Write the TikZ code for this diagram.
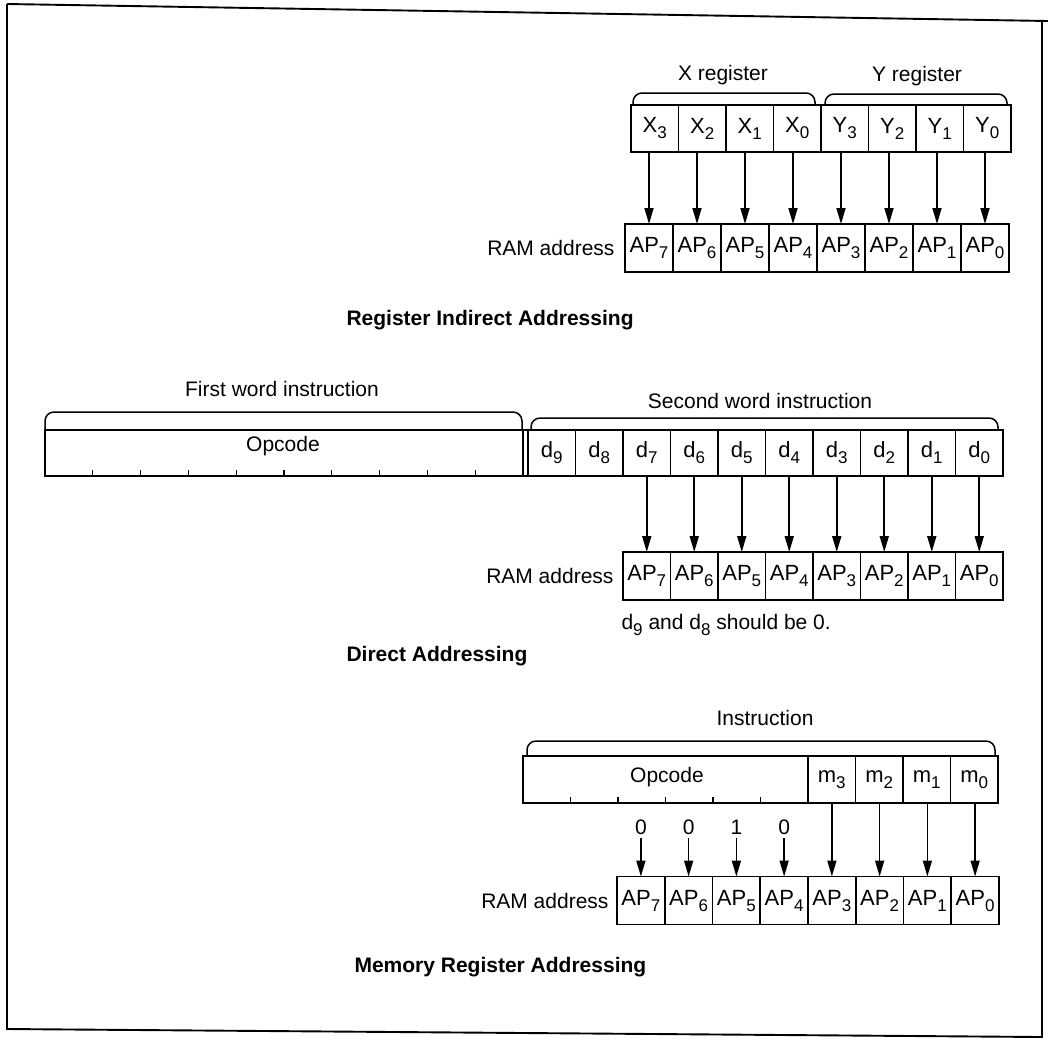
\documentclass[tikz,border=0pt]{standalone}
\usepackage{fontspec}
\setmainfont{Liberation Sans}
\usetikzlibrary{arrows.meta}
\newcommand\sbs[1]{\raisebox{-6pt}{\fontsize{17}{17}\selectfont #1}}
\begin{document}
\begin{tikzpicture}[x=1pt,y=-1pt,
  every node/.style={font=\fontsize{21}{25}\selectfont},
  cell/.style={draw,line width=1.8pt,inner sep=0pt,outer sep=0pt,minimum height=47pt,minimum width=47.5pt,font=\fontsize{22}{25}\selectfont},
  arr/.style={line width=1.7pt,-{Triangle[length=16pt,width=9pt]}},
  brace/.style={line width=1.5pt,rounded corners=9pt},
  title/.style={anchor=west,font=\fontsize{21}{25}\selectfont\bfseries},
  tick/.style={line width=1.3pt},
  frame/.style={line width=1.9pt}]
\useasboundingbox (0,0) rectangle (1048,1045);
% frame
\draw[frame] (7,4) -- (1048,21);
\draw[frame] (7,4) -- (7,1029) -- (1042,1037) -- (1042,21);

% ---------- Register Indirect Addressing ----------
\foreach \i/\t in {1/X\sbs{3},2/X\sbs{2},3/X\sbs{1},4/X\sbs{0},5/Y\sbs{3},6/Y\sbs{2},7/Y\sbs{1},8/Y\sbs{0}}
  \node[cell] (t\i) at ({631+47.5*(\i-0.5)},128.5) {\t};
\foreach \i in {1,...,8}{
  \pgfmathtruncatemacro\k{8-\i}
  \node[cell,minimum width=48pt,minimum height=48pt] (a\i) at ({625+48*(\i-0.5)},248) {AP\sbs{\k}};
  \draw[arr] (a\i.north |- t\i.south) -- (a\i.north);
}
\draw[brace] (633,104) -- (633,93) -- (815,93) -- (815,104);
\draw[brace] (825,104) -- (825,94) -- (1007,94) -- (1007,104);
\node (xl) at (723,75) {X register};
\node (yl) at (917,76) {Y register};
\node[anchor=east] (r1) at ([xshift=-7pt]a1.west) {RAM address};
\node[title] (h1) at (343,320) {Register Indirect Addressing};

% ---------- Direct Addressing ----------
\node[cell,minimum width=478pt,minimum height=46pt] (op1) at (284,453) {};
\node (opl1) at (283,446) {Opcode};
\draw[line width=1.8pt] (op1.north east) rectangle (528,476);
\foreach \k in {1,...,9}
  \draw[tick] ({45+47.8*\k},476) -- ++(0,-6);
\foreach \i in {1,...,10}{
  \pgfmathtruncatemacro\k{10-\i}
  \node[cell,minimum height=46pt] (dd\i) at ({528+47.5*(\i-0.5)},453) {d\sbs{\k}};
}
\foreach \i in {1,...,8}{
  \pgfmathtruncatemacro\k{8-\i}
  \pgfmathtruncatemacro\j{\i+2}
  \node[cell,minimum height=48pt] (b\i) at ({623+47.5*(\i-0.5)},576) {AP\sbs{\k}};
  \draw[arr] (b\i.north |- dd\j.south) -- (b\i.north);
}
\draw[brace] (45,429) -- (45,412) -- (522,412) -- (522,429);
\draw[brace] (531,429) -- (531,418) -- (998,418) -- (998,429);
\node (fw) at (282,389) {First word instruction};
\node (sw) at (760,401) {Second word instruction};
\node[anchor=east] (r2) at ([xshift=-6pt]b1.west) {RAM address};
\node[anchor=west] (note) at (618,625) {d\sbs{9} and d\sbs{8} should be 0.};
\node[title] (h2) at (343,656) {Direct Addressing};

% ---------- Memory Register Addressing ----------
\node[cell,minimum width=285pt] (op2) at (665.5,779.5) {};
\node (opl2) at (667,777) {Opcode};
\foreach \k in {1,...,5}
  \draw[tick] ({523+47.5*\k},803) -- ++(0,-6);
\foreach \i in {1,...,4}{
  \pgfmathtruncatemacro\k{4-\i}
  \node[cell] (m\i) at ({808+47.5*(\i-0.5)},779.5) {m\sbs{\k}};
}
\foreach \i in {1,...,8}{
  \pgfmathtruncatemacro\k{8-\i}
  \node[cell,minimum width=47.75pt,minimum height=48pt] (c\i) at ({617+47.75*(\i-0.5)},900.5) {AP\sbs{\k}};
}
\foreach \i/\v in {1/0,2/0,3/1,4/0}{
  \node (z\i) at ({617+47.75*(\i-0.5)},827) {\v};
  \draw[arr] (z\i.south) -- (c\i.north);
}
\foreach \i in {1,...,4}{
  \pgfmathtruncatemacro\j{\i+4}
  \draw[arr] (c\j.north |- m\i.south) -- (c\j.north);
}
\draw[brace] (527,755) -- (527,741) -- (995,741) -- (995,755);
\node (ins) at (765,718) {Instruction};
\node[anchor=east] (r3) at ([xshift=-5pt]c1.west) {RAM address};
\node[title] (h3) at (351,967) {Memory Register Addressing};
\end{tikzpicture}
\end{document}
